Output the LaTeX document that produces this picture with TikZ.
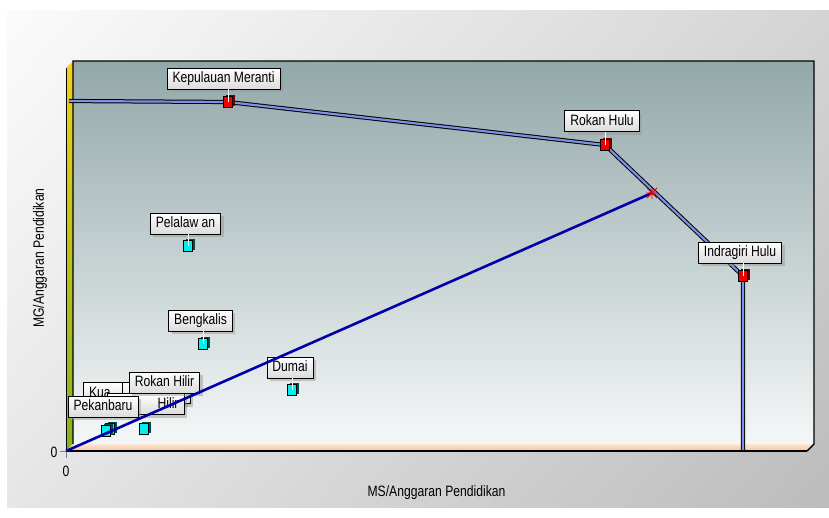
\documentclass[tikz,border=0pt]{standalone}
\usepackage{fontspec}
\setmainfont{Liberation Sans}[FakeStretch=0.81]
\usetikzlibrary{shadows,shadings}

\definecolor{bgUL}{HTML}{FBFBFB}
\definecolor{bgUR}{HTML}{D4D4D4}
\definecolor{bgLL}{HTML}{E6E6E6}
\definecolor{bgLR}{HTML}{BCBCBC}
\definecolor{wallTop}{HTML}{93A8AA}
\definecolor{wallMid}{HTML}{C8D3D4}
\definecolor{wallBot}{HTML}{F5F7F7}
\definecolor{sideTop}{HTML}{F4D11A}
\definecolor{sideMid}{HTML}{EACF1E}
\definecolor{sideBot}{HTML}{86B21E}
\definecolor{floorTop}{HTML}{FDE6D3}
\definecolor{floorBot}{HTML}{F5C39C}
\definecolor{frontBlue}{RGB}{125,145,230}
\definecolor{rayBlue}{RGB}{0,0,168}
\definecolor{markRed}{RGB}{236,0,0}
\definecolor{markCyan}{RGB}{0,238,238}

\tikzset{
  lbl/.style={draw=black, line width=0.7pt, top color=white, bottom color=black!14,
    font=\fontsize{15}{17}\selectfont, inner xsep=5.5pt, inner ysep=0pt,
    minimum height=21pt, text height=11pt, text depth=3pt,
    drop shadow={shadow xshift=3pt, shadow yshift=-3pt, fill=black!40, opacity=0.5}},
  cube/.style={rectangle, draw=black, line width=0.6pt, minimum width=9pt,
    minimum height=11pt, inner sep=0pt},
  redcube/.style={cube, fill=markRed,
    general shadow={fill=markRed!45!black, shadow xshift=2.5pt, shadow yshift=1.5pt}},
  cyancube/.style={cube, fill=markCyan,
    general shadow={fill=teal!60!black, shadow xshift=2.5pt, shadow yshift=1.5pt}},
  leader/.style={white, line width=0.9pt},
  frontier/.style={draw=black, line width=1pt, double=frontBlue, double distance=2.2pt, line join=round},
  ray/.style={rayBlue, line width=2.6pt},
  axistext/.style={font=\fontsize{15}{17}\selectfont},
}

\begin{document}
\begin{tikzpicture}[x=1pt, y=-1pt]
\useasboundingbox (0,0) rectangle (829,517);
\fill[white] (0,0) rectangle (829,517);

% outer panel
\shade[upper left=bgUL, upper right=bgUR, lower left=bgLL, lower right=bgLR]
  (7,10) rectangle (829,507);

% back wall of the plot
\shade[top color=wallTop, middle color=wallMid, bottom color=wallBot] (73,61) rectangle (814,444);
% left wall
\shade[top color=sideTop, middle color=sideMid, bottom color=sideBot] (66,68) -- (73,61) -- (73,444) -- (66,451) -- cycle;
% floor
\shade[top color=floorTop, bottom color=floorBot] (66,451) -- (73,444) -- (814,444) -- (807,451) -- cycle;
% frame and axes
\draw[black, line width=1.4pt] (73,444) -- (73,61) -- (814,61) -- (814,444) -- (807,451);
\draw[black, line width=1pt] (66,68) -- (66,451);
\draw[black, line width=2.5pt] (66,451) -- (807,451);
\draw[gray, line width=0.8pt] (60,451) -- (66,451) -- (66,458);

% axis texts
\node[axistext] (y0) at (54,452) {0};
\node[axistext] (x0) at (66,471) {0};
\node[axistext] (xlab) at (436.5,493) {MS/Anggaran Pendidikan};
\node[axistext, rotate=90] (ylab) at (40,258) {MG/Anggaran Pendidikan};

% frontier markers (positions)
\coordinate (f0) at (69,101);
\coordinate (fEnd) at (743,450);
\coordinate (mKMc) at (228,102);
\coordinate (mRHc) at (605,145);
\coordinate (mIHc) at (743,276);

% frontier
\draw[frontier] (f0) -- (mKMc) -- (mRHc) -- (mIHc) -- (fEnd);

% markers
\node[redcube] (mKM) at (mKMc) {};
\node[redcube] (mRH) at (mRHc) {};
\node[redcube] (mIH) at (mIHc) {};
\node[cyancube] (mPel) at (188,246) {};
\node[cyancube] (mBeng) at (203,344) {};
\node[cyancube] (mDum) at (292,390) {};
\node[cyancube] (mKua) at (110,429) {};
\node[cyancube] (mPek) at (106,431) {};
\node[cyancube] (mIhl) at (144,429) {};

% labels
\node[lbl] (lKM) at (223.5,78.5) {Kepulauan Meranti};
\node[lbl] (lRH) at (602,121) {Rokan Hulu};
\node[lbl] (lIH) at (740,252.5) {Indragiri Hulu};
\node[lbl] (lPel) at (185.5,223.5) {Pelalaw an};
\node[lbl] (lBeng) at (200.5,320.5) {Bengkalis};
\node[lbl] (lDum) at (290,367.5) {Dumai};
% crowded labels near the origin, partly hidden behind each other
\node[lbl, text width=90pt, align=left] (lKua) at (134,393) {Kua};
\node[lbl, minimum width=68pt] (lBlank) at (156,393) {};
\node[lbl, text width=66pt, align=right] (lIhl) at (145.5,404) {Hilir};
\node[lbl] (lRHl) at (164.5,382.5) {Rokan Hilir};
\node[lbl] (lPek) at (103,406.5) {Pekanbaru};

% leaders from labels to markers
\draw[leader] (mKM.center) -- (mKM.center |- lKM.south);
\draw[leader] (mRH.center) -- (mRH.center |- lRH.south);
\draw[leader] (mIH.center) -- (mIH.center |- lIH.south);
\draw[leader] (mPel.center) -- (mPel.center |- lPel.south);
\draw[leader] (mBeng.center) -- (mBeng.center |- lBeng.south);
\draw[leader] (mDum.center) -- (mDum.center |- lDum.south);

% ray from the origin to the projected point
\coordinate (origin) at (66,451);
\coordinate (xs) at (652,193);
\draw[ray] (origin) -- (xs);
\draw[red, line width=0.9pt]
  (xs) +(-5,-5) -- +(5,5)
  (xs) +(-5,5) -- +(5,-5)
  (xs) +(-6,0) -- +(6,0)
  (xs) +(0,-6) -- +(0,6);
\end{tikzpicture}
\end{document}
